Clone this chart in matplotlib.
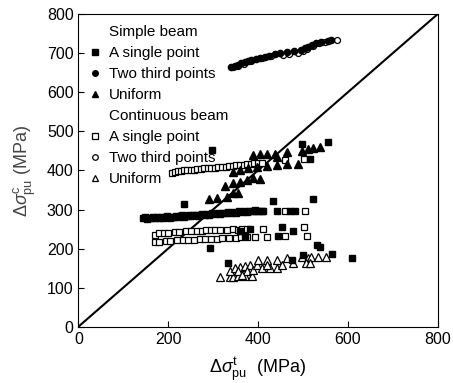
import matplotlib
matplotlib.use("Agg")
import matplotlib.pyplot as plt
from matplotlib.lines import Line2D

plt.rcParams['font.family'] = ['Liberation Sans', 'DejaVu Sans']
plt.rcParams['mathtext.fontset'] = 'custom'
plt.rcParams['mathtext.rm'] = 'Liberation Sans'
plt.rcParams['mathtext.it'] = 'Liberation Sans:italic'

# Simple beam, a single point (filled squares)
ss_x = [143, 148, 152, 157, 161, 166, 170, 175, 180, 184, 189, 194, 198, 203, 208, 212,
        217, 222, 226, 231, 236, 241, 246, 251, 256, 261, 266, 271, 276, 281, 287, 292,
        298, 304, 310, 316, 322, 328, 334, 340, 346, 352, 358, 364, 370, 376, 382, 388,
        394, 400, 408,
        297, 557, 497, 516, 235, 434, 523, 412, 442, 471, 482, 382, 453, 445, 479,
        293, 334, 475, 501, 531, 538, 564, 609, 370, 360, 395]
ss_y = [277, 280, 276, 279, 278, 281, 277, 280, 279, 282, 278, 281, 283, 279, 282, 280,
        284, 281, 283, 285, 282, 284, 286, 283, 285, 287, 284, 286, 288, 285, 289, 287,
        290, 288, 291, 289, 292, 290, 293, 291, 294, 292, 295, 293, 296, 294, 297, 295,
        298, 296, 297,
        453, 474, 468, 429, 314, 323, 327, 297, 297, 297, 297, 249, 254, 231, 246,
        201, 164, 172, 184, 208, 205, 186, 177, 231, 245, 297]

# Simple beam, two third points (filled circles)
st_x = [341, 348, 355, 362, 370, 378, 385, 395, 405, 415, 425, 438, 450, 465, 480, 495,
        505, 512, 520, 530, 540, 555, 563]
st_y = [666, 668, 671, 674, 677, 680, 682, 685, 688, 690, 693, 697, 700, 703, 705, 709,
        713, 717, 720, 725, 729, 732, 733]

# Simple beam, uniform (filled triangles)
su_x = [292, 309, 326, 330, 345, 360, 375, 390, 404, 345, 356,
        345, 360, 378, 397, 419, 442, 464, 490,
        390, 404, 419, 438, 464, 497, 512, 523, 538, 442]
su_y = [327, 330, 361, 333, 367, 371, 376, 380, 377, 342, 342,
        397, 401, 406, 410, 412, 414, 416, 417,
        440, 442, 442, 442, 447, 451, 455, 457, 461, 435]

# Continuous beam, a single point (open squares)
cs_x = [208, 216, 222, 228, 235, 242, 250, 258, 265, 272, 280, 288, 296, 305, 312, 320,
        328, 336, 344, 352, 360, 368, 376, 384, 392, 400, 410, 460, 502,
        170, 180, 190, 200, 215, 225, 240, 250, 265, 275, 285, 295, 305, 315, 330, 345,
        355, 365, 375,
        170, 180, 195, 205, 220, 232, 245, 258, 270, 282, 295, 308, 320, 335, 350, 362, 375,
        393, 412, 419, 460, 505, 460, 502, 510]
cs_y = [394, 397, 399, 398, 400, 401, 402, 402, 404, 403, 405, 406, 405, 407, 408, 409,
        410, 411, 412, 413, 414, 415, 416, 417, 418, 419, 420, 427, 429,
        236, 240, 241, 240, 242, 243, 244, 245, 246, 246, 247, 247, 248, 247, 248, 249,
        248, 250, 249,
        217, 218, 219, 220, 221, 221, 222, 223, 224, 224, 225, 225, 226, 227, 228, 229, 229,
        229, 249, 229, 297, 297, 232, 254, 232]

# Continuous beam, two third points (open circles)
ct_x = [345, 355, 368, 385, 410, 430, 455, 470, 490, 500, 510, 522, 535, 550, 575]
ct_y = [664, 667, 672, 679, 688, 692, 696, 697, 700, 707, 712, 718, 725, 730, 734]

# Continuous beam, uniform (open triangles)
cu_x = [315, 338, 345, 356, 371, 386, 338, 349, 360, 371, 382, 356, 375, 390, 397, 401,
        419, 442, 408, 427, 442, 419, 453, 464, 479, 497, 512, 519, 534, 551, 508, 516, 364]
cu_y = [128, 126, 128, 130, 131, 131, 143, 149, 154, 156, 158, 143, 143, 145, 158, 171,
        171, 172, 149, 151, 149, 158, 158, 175, 162, 178, 175, 179, 179, 179, 162, 162, 132]

fig = plt.figure(figsize=(4.53, 3.83), dpi=100)
ax = fig.add_axes([0.173, 0.147, 0.793, 0.816])

ax.plot([0, 800], [0, 800], color='black', lw=1.5, zorder=1)

ax.plot(cs_x, cs_y, 's', ms=4.6, mfc='white', mec='black', mew=0.9, ls='none', zorder=2)
ax.plot(cu_x, cu_y, '^', ms=5.3, mfc='white', mec='black', mew=0.9, ls='none', zorder=2)
ax.plot(ct_x, ct_y, 'o', ms=4.3, mfc='white', mec='black', mew=0.9, ls='none', zorder=2)
ax.plot(ss_x, ss_y, 's', ms=4.8, color='black', ls='none', zorder=3)
ax.plot(st_x, st_y, 'o', ms=4.5, color='black', ls='none', zorder=3)
ax.plot(su_x, su_y, '^', ms=5.3, color='black', ls='none', zorder=3)

ax.set_xlim(0, 800)
ax.set_ylim(0, 800)
ax.set_xticks([0, 200, 400, 600, 800])
ax.set_yticks([0, 100, 200, 300, 400, 500, 600, 700, 800])
ax.tick_params(direction='in', length=4, labelsize=11.5, top=False, right=False)
ax.set_xlabel(r'$\Delta\sigma^{\rm t}_{\rm pu}$  (MPa)', fontsize=13, labelpad=6)
ax.set_ylabel(r'$\Delta\sigma^{\rm c}_{\rm pu}$ (MPa)', fontsize=13, color='#444444', labelpad=6)

blank = Line2D([], [], ls='none', marker=None)
handles = [
    blank,
    Line2D([], [], ls='none', marker='s', ms=4, color='black'),
    Line2D([], [], ls='none', marker='o', ms=4, color='black'),
    Line2D([], [], ls='none', marker='^', ms=4.5, color='black'),
    blank,
    Line2D([], [], ls='none', marker='s', ms=4, mfc='white', mec='black', mew=0.9),
    Line2D([], [], ls='none', marker='o', ms=4, mfc='white', mec='black', mew=0.9),
    Line2D([], [], ls='none', marker='^', ms=4.5, mfc='white', mec='black', mew=0.9),
]
labels = ['Simple beam', 'A single point', 'Two third points', 'Uniform',
          'Continuous beam', 'A single point', 'Two third points', 'Uniform']
ax.legend(handles, labels, loc='upper left', bbox_to_anchor=(0.0, 1.0), frameon=False,
          fontsize=11, handlelength=0.8, handletextpad=0.5, labelspacing=0.46,
          borderaxespad=0.3)

fig.savefig('out.png', dpi=100)
